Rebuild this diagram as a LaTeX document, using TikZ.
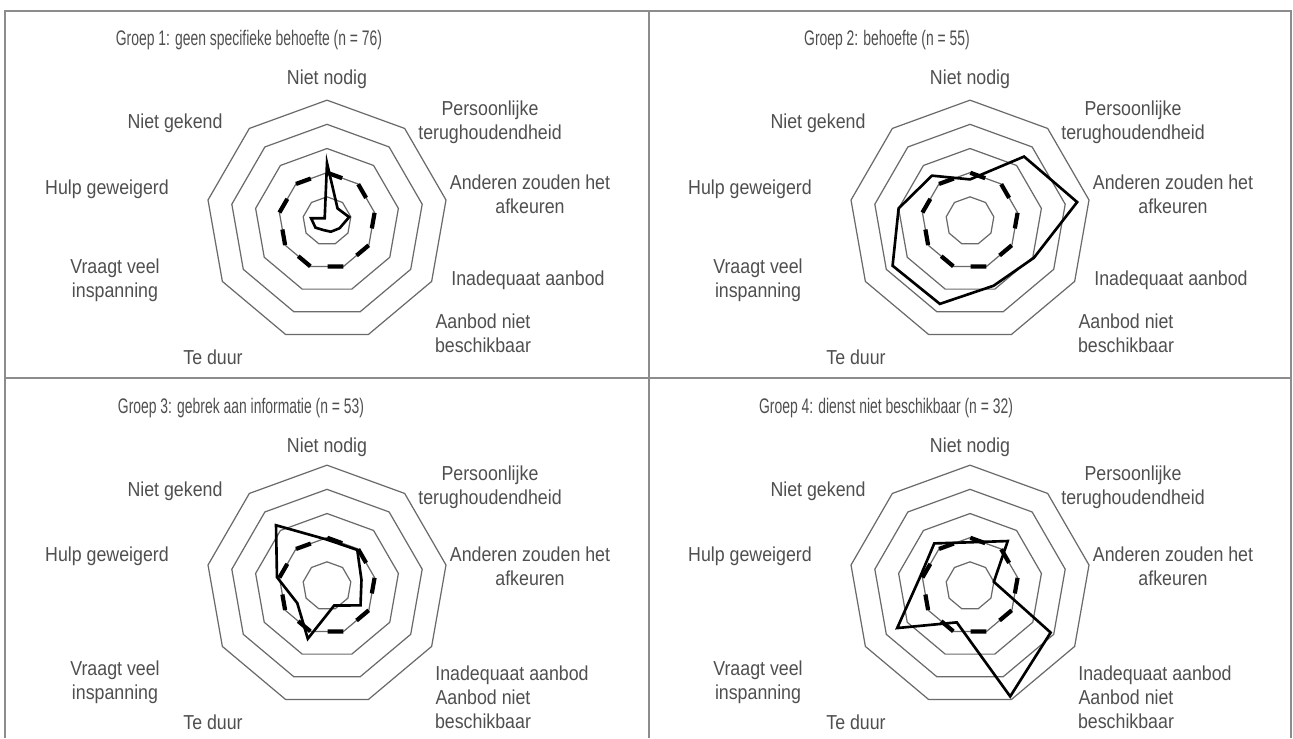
\documentclass[tikz,border=0pt]{standalone}
\usepackage{fontspec}
\setmainfont{Liberation Sans}[FakeStretch=0.88]
\newfontfamily\titlefont{Liberation Sans}[FakeStretch=0.66]
\usetikzlibrary{shapes.geometric}
\definecolor{ringgray}{HTML}{6A6A6A}
\definecolor{framegray}{HTML}{8C8C8C}
\definecolor{labelgray}{HTML}{4F4F4F}
\tikzset{
  ring/.style={draw=ringgray, line width=0.7pt, regular polygon, regular polygon sides=9, inner sep=0pt, outer sep=0pt},
  avgring/.style={ring, draw=black, line width=2.4pt, dash pattern=on 9pt off 9.8pt, dash phase=9pt},
  lbl/.style={text=labelgray, font=\fontsize{11.5}{13.5}\selectfont, align=center, inner sep=0pt},
  ttl/.style={lbl, font=\titlefont\fontsize{12}{14}\selectfont},
  datapath/.style={line width=1.5pt, line join=miter},
  frame/.style={draw=framegray, line width=1.4pt},
}

\begin{document}
\begin{tikzpicture}[x=0.02cm, y=0.02cm]
\useasboundingbox (0,0) rectangle (1293,738);
% frame
\draw[frame] (5,0) -- (5,727) -- (1291,727) -- (1291,0);
\draw[frame] (649,0) -- (649,727);
\draw[frame] (5,360) -- (1291,360);

% group 1
\begin{scope}[shift={(327,517)}]
\node[ring, minimum size=0.967cm] (p1r1) at (0,0) {};
\node[ring, minimum size=1.934cm] (p1r2) at (0,0) {};
\node[ring, minimum size=2.900cm] (p1r3) at (0,0) {};
\node[ring, minimum size=3.867cm] (p1r4) at (0,0) {};
\node[ring, minimum size=4.834cm] (p1r5) at (0,0) {};
\node[avgring, minimum size=1.934cm] (p1avg) at (0,0) {};
\draw[datapath] (90:58.0) -- (50:16.4) -- (10:22.5) -- (-30:14.5) -- (-70:11.4) -- (-110:9.7) -- (-150:13.3) -- (170:16.2) -- (130:3.6) -- cycle;
\node[ttl] (p1t) at (-78,181) {Groep 1: geen specifieke behoefte (n = 76)};
\node[lbl] (p1l1) at (0,142) {Niet nodig};
\node[lbl] (p1l2) at (163,99) {Persoonlijke\\terughoudendheid};
\node[lbl] (p1l3) at (203,26.5) {Anderen zouden het\\afkeuren};
\node[lbl] (p1l4) at (201,-59) {Inadequaat aanbod};
\node[lbl] (p1l5) at (156,-112.5) {Aanbod niet\\beschikbaar};
\node[lbl] (p1l6) at (-114,-136) {Te duur};
\node[lbl] (p1l7) at (-212,-59) {Vraagt veel\\inspanning};
\node[lbl] (p1l8) at (-220,32) {Hulp geweigerd};
\node[lbl] (p1l9) at (-152,98) {Niet gekend};
\end{scope}

% group 2
\begin{scope}[shift={(970,517)}]
\node[ring, minimum size=0.967cm] (p2r1) at (0,0) {};
\node[ring, minimum size=1.934cm] (p2r2) at (0,0) {};
\node[ring, minimum size=2.900cm] (p2r3) at (0,0) {};
\node[ring, minimum size=3.867cm] (p2r4) at (0,0) {};
\node[ring, minimum size=4.834cm] (p2r5) at (0,0) {};
\node[avgring, minimum size=1.934cm] (p2avg) at (0,0) {};
\draw[datapath] (90:41.6) -- (50:84.1) -- (10:108.8) -- (-30:73.7) -- (-70:68.9) -- (-110:88.2) -- (-150:89.4) -- (170:72.5) -- (130:59.2) -- cycle;
\node[ttl] (p2t) at (-83,181) {Groep 2: behoefte (n = 55)};
\node[lbl] (p2l1) at (0,142) {Niet nodig};
\node[lbl] (p2l2) at (163,99) {Persoonlijke\\terughoudendheid};
\node[lbl] (p2l3) at (203,26.5) {Anderen zouden het\\afkeuren};
\node[lbl] (p2l4) at (201,-59) {Inadequaat aanbod};
\node[lbl] (p2l5) at (156,-112.5) {Aanbod niet\\beschikbaar};
\node[lbl] (p2l6) at (-114,-136) {Te duur};
\node[lbl] (p2l7) at (-212,-59) {Vraagt veel\\inspanning};
\node[lbl] (p2l8) at (-220,32) {Hulp geweigerd};
\node[lbl] (p2l9) at (-152,98) {Niet gekend};
\end{scope}

% group 3
\begin{scope}[shift={(327,152)}]
\node[ring, minimum size=0.967cm] (p3r1) at (0,0) {};
\node[ring, minimum size=1.934cm] (p3r2) at (0,0) {};
\node[ring, minimum size=2.900cm] (p3r3) at (0,0) {};
\node[ring, minimum size=3.867cm] (p3r4) at (0,0) {};
\node[ring, minimum size=4.834cm] (p3r5) at (0,0) {};
\node[avgring, minimum size=1.934cm] (p3avg) at (0,0) {};
\draw[datapath] (90:46.4) -- (50:47.1) -- (10:35.0) -- (-30:38.7) -- (-70:20.8) -- (-110:56.1) -- (-150:34.3) -- (170:50.8) -- (130:79.3) -- cycle;
\node[ttl] (p3t) at (-86,178) {Groep 3: gebrek aan informatie (n = 53)};
\node[lbl] (p3l1) at (0,139) {Niet nodig};
\node[lbl] (p3l2) at (163,99) {Persoonlijke\\terughoudendheid};
\node[lbl] (p3l3) at (203,19.5) {Anderen zouden het\\afkeuren};
\node[lbl] (p3l4) at (185,-89) {Inadequaat aanbod};
\node[lbl] (p3l5) at (156,-123.5) {Aanbod niet\\beschikbaar};
\node[lbl] (p3l6) at (-114,-136) {Te duur};
\node[lbl] (p3l7) at (-212,-96) {Vraagt veel\\inspanning};
\node[lbl] (p3l8) at (-220,30) {Hulp geweigerd};
\node[lbl] (p3l9) at (-152,95) {Niet gekend};
\end{scope}

% group 4
\begin{scope}[shift={(970,152)}]
\node[ring, minimum size=0.967cm] (p4r1) at (0,0) {};
\node[ring, minimum size=1.934cm] (p4r2) at (0,0) {};
\node[ring, minimum size=2.900cm] (p4r3) at (0,0) {};
\node[ring, minimum size=3.867cm] (p4r4) at (0,0) {};
\node[ring, minimum size=4.834cm] (p4r5) at (0,0) {};
\node[avgring, minimum size=1.934cm] (p4avg) at (0,0) {};
\draw[datapath] (90:43.7) -- (50:58.7) -- (10:24.2) -- (-30:93.1) -- (-70:117.5) -- (-110:38.7) -- (-150:84.1) -- (170:50.8) -- (130:55.6) -- cycle;
\node[ttl] (p4t) at (-84,178) {Groep 4: dienst niet beschikbaar (n = 32)};
\node[lbl] (p4l1) at (0,139) {Niet nodig};
\node[lbl] (p4l2) at (163,99) {Persoonlijke\\terughoudendheid};
\node[lbl] (p4l3) at (203,19.5) {Anderen zouden het\\afkeuren};
\node[lbl] (p4l4) at (185,-89) {Inadequaat aanbod};
\node[lbl] (p4l5) at (156,-123.5) {Aanbod niet\\beschikbaar};
\node[lbl] (p4l6) at (-114,-136) {Te duur};
\node[lbl] (p4l7) at (-212,-96) {Vraagt veel\\inspanning};
\node[lbl] (p4l8) at (-220,30) {Hulp geweigerd};
\node[lbl] (p4l9) at (-152,95) {Niet gekend};
\end{scope}
\end{tikzpicture}
\end{document}
